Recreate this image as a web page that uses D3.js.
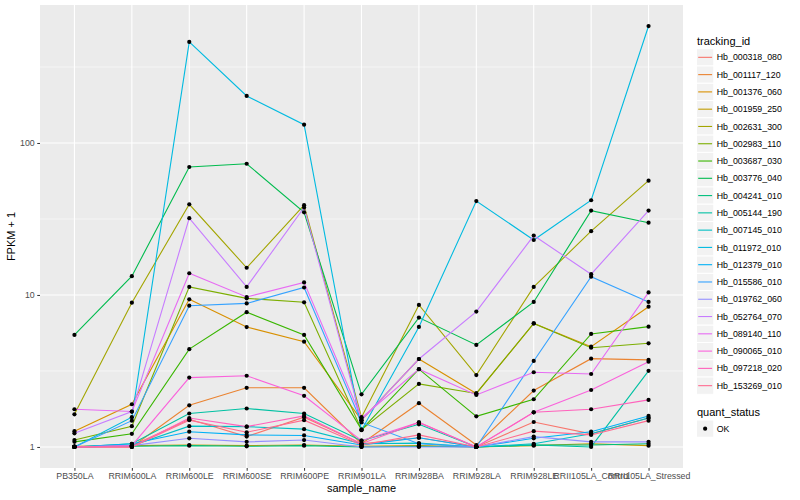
<!DOCTYPE html>
<html>
<head>
<meta charset="utf-8">
<script src="https://cdn.jsdelivr.net/npm/d3@7"></script>
<style>
  body { margin: 0; background: #fff; }
  svg { font-family: "Liberation Sans", Arial, Helvetica, sans-serif; }
</style>
</head>
<body>
<div id="chart"></div>
<script>
// samples on the x axis
const samples = ["PB350LA", "RRIM600LA", "RRIM600LE", "RRIM600SE", "RRIM600PE", "RRIM901LA",
    "RRIM928BA", "RRIM928LA", "RRIM928LE", "RRII105LA_Control", "RRII105LA_Stressed"];

const trackingIds = ["Hb_000318_080", "Hb_001117_120", "Hb_001376_060", "Hb_001959_250", "Hb_002631_300",
    "Hb_002983_110", "Hb_003687_030", "Hb_003776_040", "Hb_004241_010", "Hb_005144_190",
    "Hb_007145_010", "Hb_011972_010", "Hb_012379_010", "Hb_015586_010", "Hb_019762_060",
    "Hb_052764_070", "Hb_089140_110", "Hb_090065_010", "Hb_097218_020", "Hb_153269_010"];

// default ggplot hue palette for 20 levels
const huePalette = ["#F8766D", "#EA8331", "#D89000", "#C09B00", "#A3A500", "#7CAE00", "#39B600",
    "#00BB4E", "#00BF7D", "#00C1A3", "#00BFC4", "#00BAE0", "#00B0F6", "#35A2FF", "#9590FF",
    "#C77CFF", "#E76BF3", "#FA62DB", "#FF62BC", "#FF6C91"];

// FPKM + 1, one row per tracking_id, one value per sample
const fpkm = [
    [1.00, 1.02, 1.52, 1.17, 1.57, 1.05, 1.15, 1.00, 1.46, 1.22, 1.55],
    [1.00, 1.00, 1.88, 2.45, 2.45, 1.05, 1.94, 1.03, 2.35, 3.81, 3.74],
    [1.27, 1.91, 9.36, 6.15, 4.93, 1.50, 3.79, 2.25, 6.50, 4.57, 8.37],
    [1.01, 1.02, 1.03, 1.02, 1.03, 1.01, 1.02, 1.00, 1.02, 1.05, 1.02],
    [1.64, 8.90, 39.5, 15.1, 39.0, 1.57, 8.60, 2.97, 11.3, 26.3, 56.5],
    [1.11, 1.37, 11.3, 9.50, 8.95, 1.30, 2.60, 2.25, 6.50, 4.50, 4.81],
    [1.08, 1.22, 4.40, 7.70, 5.46, 1.30, 3.25, 1.59, 2.06, 5.54, 6.19],
    [5.46, 13.3, 69.5, 73.0, 35.0, 2.22, 7.10, 4.69, 9.00, 35.9, 29.9],
    [1.00, 1.01, 1.02, 1.01, 1.02, 1.00, 1.01, 1.00, 1.03, 1.03, 1.05],
    [1.00, 1.05, 1.66, 1.79, 1.66, 1.10, 1.41, 1.00, 1.03, 1.00, 3.17],
    [1.00, 1.02, 1.37, 1.36, 1.31, 1.05, 1.06, 1.00, 1.05, 1.22, 1.55],
    [1.00, 1.57, 462, 204, 132, 1.29, 6.16, 41.5, 23.0, 42.0, 588],
    [1.00, 1.05, 1.26, 1.20, 1.19, 1.03, 1.15, 1.00, 1.14, 1.26, 1.60],
    [1.00, 1.49, 8.50, 8.80, 11.2, 1.45, 1.05, 1.00, 3.68, 13.2, 9.00],
    [1.00, 1.02, 1.14, 1.08, 1.11, 1.00, 1.00, 1.00, 1.17, 1.08, 1.08],
    [1.23, 1.71, 32.0, 11.3, 37.6, 1.50, 3.79, 7.77, 24.6, 13.7, 35.9],
    [1.77, 1.71, 13.9, 9.70, 12.1, 1.55, 3.25, 2.20, 3.10, 3.02, 10.4],
    [1.00, 1.02, 2.86, 2.94, 2.17, 1.10, 1.45, 1.00, 1.69, 2.37, 3.64],
    [1.00, 1.00, 1.55, 1.36, 1.60, 1.05, 1.45, 1.00, 1.69, 1.77, 2.04],
    [1.00, 1.00, 1.50, 1.25, 1.50, 1.03, 1.20, 1.00, 1.27, 1.20, 1.49]
];

const yTicks = [1, 10, 100];
const yMinor = [Math.sqrt(10), Math.sqrt(1000), Math.sqrt(100000)];
const shapeLevels = ["OK"];

const width = 800, height = 500;
const panel = {left: 40, right: 683, top: 5, bottom: 468};

const colour = d3.scaleOrdinal()
    .domain(trackingIds)
    .range(huePalette);

const series = trackingIds.map((id, i) => ({
    id: id,
    values: samples.map((s, j) => ({sample: s, value: fpkm[i][j]}))
}));

const x = d3.scalePoint()
    .domain(samples)
    .range([panel.left, panel.right])
    .padding(0.6);

// log scale with ggplot-style 5% expansion
const allVals = [].concat.apply([], fpkm);
const lo = Math.log10(d3.min(allVals)), hi = Math.log10(d3.max(allVals));
const pad = (hi - lo) * 0.05;
const y = d3.scaleLog()
    .domain([Math.pow(10, lo - pad), Math.pow(10, hi + pad)])
    .range([panel.bottom, panel.top]);

const svg = d3.select("#chart").append("svg")
    .attr("width", width).attr("height", height)
    .attr("viewBox", [0, 0, width, height]);

// panel background + grid
svg.append("rect")
    .attr("x", panel.left).attr("y", panel.top)
    .attr("width", panel.right - panel.left).attr("height", panel.bottom - panel.top)
    .attr("fill", "#EBEBEB");

svg.append("g").selectAll("line").data(yMinor).join("line")
    .attr("x1", panel.left).attr("x2", panel.right)
    .attr("y1", d => y(d)).attr("y2", d => y(d))
    .attr("stroke", "#fff").attr("stroke-width", 0.55);

svg.append("g").selectAll("line").data(yTicks).join("line")
    .attr("x1", panel.left).attr("x2", panel.right)
    .attr("y1", d => y(d)).attr("y2", d => y(d))
    .attr("stroke", "#fff").attr("stroke-width", 1.1);

svg.append("g").selectAll("line").data(samples).join("line")
    .attr("x1", d => x(d)).attr("x2", d => x(d))
    .attr("y1", panel.top).attr("y2", panel.bottom)
    .attr("stroke", "#fff").attr("stroke-width", 1.1);

// lines
const line = d3.line()
    .x(d => x(d.sample))
    .y(d => y(d.value));

svg.append("g")
    .selectAll("path")
    .data(series)
    .join("path")
    .attr("fill", "none")
    .attr("stroke", d => colour(d.id))
    .attr("stroke-width", 1.1)
    .attr("d", d => line(d.values));

// points
svg.append("g")
    .selectAll("g")
    .data(series)
    .join("g")
    .selectAll("circle")
    .data(d => d.values)
    .join("circle")
    .attr("cx", d => x(d.sample))
    .attr("cy", d => y(d.value))
    .attr("r", 2.1)
    .attr("fill", "#000");

// axes
const xAxis = g => g
    .attr("transform", `translate(0,${panel.bottom})`)
    .call(d3.axisBottom(x).tickSize(2.75).tickPadding(2.5))
    .call(g => g.select(".domain").remove())
    .call(g => g.selectAll(".tick line").attr("stroke", "#333"))
    .call(g => g.selectAll(".tick text").attr("fill", "#4D4D4D").attr("font-size", 8.8));

const yAxis = g => g
    .attr("transform", `translate(${panel.left},0)`)
    .call(d3.axisLeft(y).tickValues(yTicks).tickFormat(d3.format("d")).tickSize(2.75).tickPadding(2.5))
    .call(g => g.select(".domain").remove())
    .call(g => g.selectAll(".tick line").attr("stroke", "#333"))
    .call(g => g.selectAll(".tick text").attr("fill", "#4D4D4D").attr("font-size", 8.8));

svg.append("g").call(xAxis).attr("font-family", null);
svg.append("g").call(yAxis).attr("font-family", null);

svg.append("text")
    .attr("x", (panel.left + panel.right) / 2).attr("y", 492)
    .attr("text-anchor", "middle").attr("font-size", 11)
    .text("sample_name");

svg.append("text")
    .attr("transform", `translate(15,${(panel.top + panel.bottom) / 2}) rotate(-90)`)
    .attr("text-anchor", "middle").attr("font-size", 11)
    .text("FPKM + 1");

// legend: tracking_id
const keySize = 17.28;
const legend = svg.append("g").attr("transform", "translate(696.5,0)");

legend.append("text")
    .attr("x", 0.5).attr("y", 44.5)
    .attr("font-size", 11)
    .text("tracking_id");

const key = legend.selectAll("g.key")
    .data(trackingIds)
    .join("g")
    .attr("class", "key")
    .attr("transform", (d, i) => `translate(0,${48.7 + i * keySize})`);

key.append("rect")
    .attr("width", keySize).attr("height", keySize)
    .attr("fill", "#F2F2F2").attr("stroke", "#fff").attr("stroke-width", 1);

key.append("line")
    .attr("x1", 1.7).attr("x2", keySize - 1.7)
    .attr("y1", keySize / 2).attr("y2", keySize / 2)
    .attr("stroke", d => colour(d)).attr("stroke-width", 1.1);

key.append("text")
    .attr("x", keySize + 3).attr("y", keySize / 2 + 3.1)
    .attr("font-size", 8.8)
    .text(d => d);

// legend: quant_status
const legend2 = svg.append("g").attr("transform", "translate(696.5,0)");

legend2.append("text")
    .attr("x", 0.5).attr("y", 416)
    .attr("font-size", 11)
    .text("quant_status");

const key2 = legend2.selectAll("g.key")
    .data(shapeLevels)
    .join("g")
    .attr("class", "key")
    .attr("transform", (d, i) => `translate(0,${420 + i * keySize})`);

key2.append("rect")
    .attr("width", keySize).attr("height", keySize)
    .attr("fill", "#F2F2F2").attr("stroke", "#fff").attr("stroke-width", 1);

key2.append("circle")
    .attr("cx", keySize / 2).attr("cy", keySize / 2)
    .attr("r", 2.1).attr("fill", "#000");

key2.append("text")
    .attr("x", keySize + 3).attr("y", keySize / 2 + 3.1)
    .attr("font-size", 8.8)
    .text(d => d);
</script>
</body>
</html>
